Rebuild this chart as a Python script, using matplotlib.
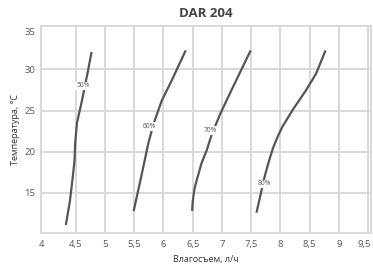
import matplotlib
matplotlib.use('Agg')
import matplotlib.pyplot as plt
import matplotlib.transforms as mtransforms

# Данные кривых (влагосъем, л/ч ; температура, °C)
x50 = [4.33, 4.40, 4.45, 4.48, 4.49, 4.52, 4.60, 4.70, 4.77]
y50 = [11.1, 14.0, 17.0, 19.0, 21.0, 23.5, 26.0, 29.5, 32.1]

x60 = [5.49, 5.62, 5.74, 5.80, 5.86, 5.97, 6.13, 6.38]
y60 = [12.8, 17.0, 21.0, 22.6, 24.0, 26.2, 28.5, 32.3]

x70 = [6.49, 6.50, 6.53, 6.57, 6.65, 6.74, 6.82, 6.97, 7.15, 7.32, 7.49]
y70 = [12.8, 14.0, 15.5, 16.6, 18.6, 20.2, 22.0, 24.6, 27.3, 29.8, 32.3]

x80 = [7.59, 7.66, 7.73, 7.80, 7.87, 7.95, 8.03, 8.21, 8.44, 8.61, 8.77]
y80 = [12.6, 14.8, 17.0, 18.8, 20.4, 21.8, 23.0, 25.1, 27.5, 29.5, 32.3]

labels = ['50%', '60%', '70%', '80%']
label_x = [4.62, 5.76, 6.80, 7.72]
label_y = [28.0, 23.05, 22.6, 16.1]

xticks = [4, 4.5, 5, 5.5, 6, 6.5, 7, 7.5, 8, 8.5, 9, 9.5]
xtick_labels = ['4', '4,5', '5', '5,5', '6', '6,5', '7', '7,5', '8', '8,5', '9', '9,5']
yticks = [15, 20, 25, 30, 35]

plt.rcParams['font.family'] = ['Open Sans', 'DejaVu Sans']

fig = plt.figure(figsize=(3.73, 2.68), dpi=100)
ax = fig.add_axes([0.109, 0.1295, 0.886, 0.7745])

grid_c = '#d9d9d9'
line_c = '#555555'
text_c = '#555555'

for xs, ys in [(x50, y50), (x60, y60), (x70, y70), (x80, y80)]:
    ax.plot(xs, ys, color=line_c, linewidth=1.6, solid_capstyle='butt', zorder=3)

for t, lx, ly in zip(labels, label_x, label_y):
    ax.text(lx, ly, t, fontsize=4.8, color=text_c, ha='center', va='center', zorder=4,
            bbox=dict(facecolor='white', edgecolor='none', pad=0.6))

ax.set_xlim(3.9, 9.55)
ax.set_ylim(10.1, 35.3)
ax.set_xticks(xticks)
ax.set_xticklabels(xtick_labels)
ax.set_yticks(yticks)
ax.grid(True, color=grid_c, linewidth=1.4)
ax.set_axisbelow(True)
ax.get_xgridlines()[0].set_visible(False)
ax.get_ygridlines()[-1].set_visible(False)

for s in ax.spines.values():
    s.set_color(grid_c)
    s.set_linewidth(1.4)

ax.tick_params(length=0, labelsize=6.8, colors=text_c, pad=4)
ax.tick_params(axis='x', pad=5)

# крайние подписи сдвинуты как в оригинале
tl = ax.get_xticklabels()
tl[0].set_transform(tl[0].get_transform() + mtransforms.ScaledTranslation(-5 / 100, 0, fig.dpi_scale_trans))
tl[-1].set_transform(tl[-1].get_transform() + mtransforms.ScaledTranslation(-4 / 100, 0, fig.dpi_scale_trans))
yl = ax.get_yticklabels()
yl[-1].set_transform(yl[-1].get_transform() + mtransforms.ScaledTranslation(0, -3 / 100, fig.dpi_scale_trans))

ax.set_xlabel('Влагосъем, л/ч', fontsize=6.5, color='#333333', labelpad=4)
ax.set_ylabel('Температура, °C', fontsize=6.5, color='#333333', labelpad=3)
ax.set_title('DAR 204', fontsize=9.5, fontweight='bold', color='#444444', pad=6)

fig.savefig('out.png', dpi=100)
